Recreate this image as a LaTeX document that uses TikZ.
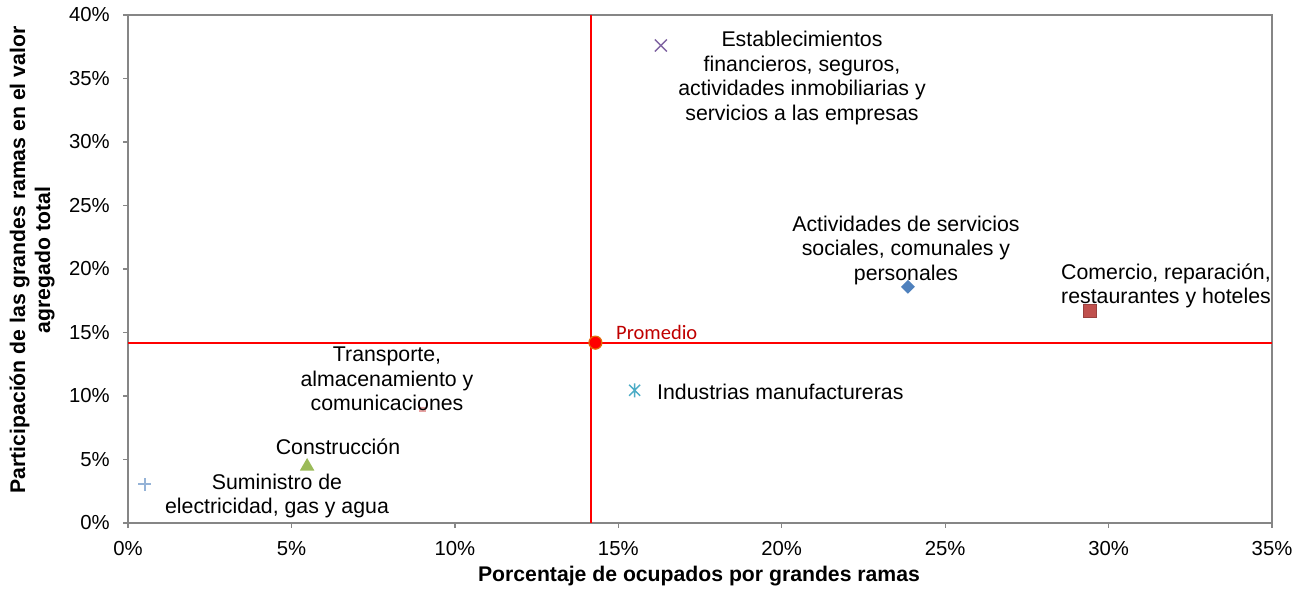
\documentclass[tikz,border=0pt]{standalone}
\usepackage{fontspec}
\setmainfont{Liberation Sans}
\newfontfamily\promfont{Carlito}
\usetikzlibrary{shapes.geometric}
\definecolor{axisgray}{HTML}{868686}
\definecolor{mpurple}{HTML}{8064A2}
\definecolor{mblue}{HTML}{4F81BD}
\definecolor{mred}{HTML}{C0504D}
\definecolor{mteal}{HTML}{4BACC6}
\definecolor{mpink}{HTML}{E6A3A2}
\definecolor{mgreen}{HTML}{9BBB59}
\definecolor{mlblue}{HTML}{95B3D7}
\definecolor{promorange}{HTML}{E46C0A}
\definecolor{promtext}{HTML}{C00000}
\tikzset{
  axisline/.style={axisgray, line width=1.3pt},
  avgline/.style={red, line width=2pt},
  lbl/.style={inner sep=0pt, align=center, font=\fontsize{21.3}{24.5}\selectfont, text=black},
  ticklbl/.style={inner sep=0pt, font=\fontsize{20.3}{23}\selectfont},
  axtitle/.style={inner sep=0pt, align=center, font=\fontsize{21.2}{25}\selectfont\bfseries},
  mk/.style={inner sep=0pt, minimum size=0pt},
}
\begin{document}
\begin{tikzpicture}[x=1pt,y=1pt]
\useasboundingbox (0,0) rectangle (1303,589);
\fill[white] (0,0) rectangle (1303,589);
\begin{scope}[shift={(128,66)}, x=32.686pt, y=12.7pt]
  % frame and ticks
  \draw[axisline] (0,0) rectangle (35,40);
  \foreach \t in {0,5,...,35} {
    \draw[axisline] (\t,0) -- ++(0,-5pt);
    \node[ticklbl] at ([yshift=-26pt]\t,0) {\t\%};
  }
  \foreach \t in {0,5,...,40} {
    \draw[axisline] (0,\t) -- ++(-5pt,0);
    \node[ticklbl, anchor=east] at ([xshift=-18pt]0,\t) {\t\%};
  }
  % average lines
  \coordinate (vtop) at (14.17,40);
  \coordinate (vbot) at (14.17,0);
  \coordinate (hleft) at (0,14.2);
  \coordinate (hright) at (35,14.2);
  \draw[avgline] (vbot) -- (vtop);
  \draw[avgline] (hleft) -- (hright);
  % markers
  \coordinate (est) at (16.3,37.6);
  \draw[mpurple, line width=1.4pt] ([shift={(-6pt,-6pt)}]est) -- ([shift={(6pt,6pt)}]est)
     ([shift={(-6pt,6pt)}]est) -- ([shift={(6pt,-6pt)}]est);
  \node[mk, diamond, fill=mblue, minimum width=14pt, minimum height=14pt] (act) at (23.86,18.6) {};
  \node[mk, rectangle, fill=mred, draw=mred!80!black, line width=0.4pt, minimum size=13pt] (com) at (29.43,16.7) {};
  \coordinate (ind) at (15.5,10.45);
  \draw[mteal, line width=1.4pt] ([shift={(-5.5pt,-5.5pt)}]ind) -- ([shift={(5.5pt,5.5pt)}]ind)
     ([shift={(-5.5pt,5.5pt)}]ind) -- ([shift={(5.5pt,-5.5pt)}]ind)
     ([shift={(0pt,-7pt)}]ind) -- ([shift={(0pt,7pt)}]ind);
  \node[mk, rectangle, fill=mpink, minimum width=7pt, minimum height=5pt] (tra) at (9.02,8.95) {};
  \node[mk, regular polygon, regular polygon sides=3, fill=mgreen, minimum size=17pt] (con) at (5.48,4.45) {};
  \coordinate (sum) at (0.52,3.07);
  \draw[mlblue, line width=1.3pt] ([xshift=-6.5pt]sum) -- ([xshift=6.5pt]sum)
     ([yshift=-6.5pt]sum) -- ([yshift=6.5pt]sum);
  \node[mk, circle, fill=red, draw=promorange, line width=1.2pt, minimum size=13pt] (prom) at (14.3,14.2) {};
\end{scope}
% labels
\node[lbl] (lest) at (802,511) {Establecimientos\\financieros, seguros,\\actividades inmobiliarias y\\servicios a las empresas};
\node[lbl] (lact) at (906,339) {Actividades de servicios\\sociales, comunales y\\personales};
\node[lbl] (lcom) at (1166,303) {Comercio, reparación,\\restaurantes y hoteles};
\node[lbl, anchor=west] (lind) at (657,197) {Industrias manufactureras};
\node[lbl] (ltra) at (387,210) {Transporte,\\almacenamiento y\\comunicaciones};
\node[lbl] (lcon) at (338,142) {Construcción};
\node[lbl] (lsum) at (277,93) {Suministro de\\electricidad, gas y agua};
\node[inner sep=0pt, anchor=west, text=promtext, font=\promfont\fontsize{20.5}{24}\selectfont] (lprom) at (616,257) {Promedio};
% axis titles
\node[axtitle] (xtitle) at (699,13) {Porcentaje de ocupados por grandes ramas};
\node[axtitle, rotate=90] (ytitle) at (32,329) {Participación de las grandes ramas en el valor\\agregado total};
\end{tikzpicture}
\end{document}
